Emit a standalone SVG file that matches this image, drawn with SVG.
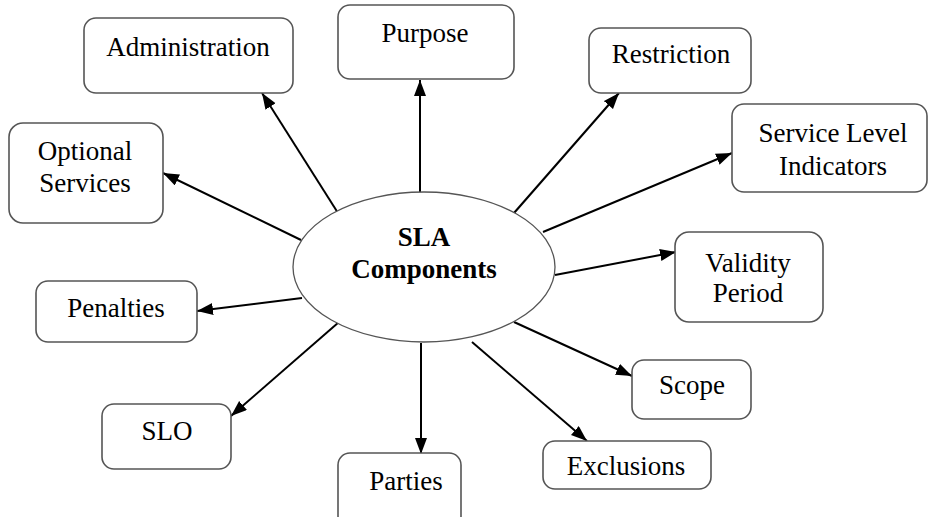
<svg xmlns="http://www.w3.org/2000/svg" width="928" height="517" viewBox="0 0 928 517">
<defs>
<marker id="ah" markerUnits="userSpaceOnUse" markerWidth="17" markerHeight="13" refX="16" refY="6" orient="auto">
<path d="M0,0 L16,6 L0,12 z" fill="#000"/>
</marker>
<style>
.box{fill:#fff;stroke:#555;stroke-width:1.6}
.t{font-family:"Liberation Serif","Times New Roman",serif;font-size:27px;fill:#000;text-anchor:middle}
.b{font-weight:bold}
.c{stroke:#000;stroke-width:2;fill:none;marker-end:url(#ah)}
</style>
</defs>
<rect width="928" height="517" fill="#fff"/>
<g id="connectors">
<line class="c" x1="338" y1="213" x2="262" y2="93"/>
<line class="c" x1="420" y1="192" x2="420" y2="80"/>
<line class="c" x1="301" y1="240" x2="163" y2="173"/>
<line class="c" x1="514" y1="213" x2="619" y2="93"/>
<line class="c" x1="543" y1="232" x2="732" y2="153"/>
<line class="c" x1="555" y1="275" x2="676" y2="252"/>
<line class="c" x1="302" y1="298" x2="197" y2="311"/>
<line class="c" x1="339" y1="322" x2="231" y2="416"/>
<line class="c" x1="421" y1="343" x2="421" y2="454"/>
<line class="c" x1="514" y1="322" x2="632" y2="376"/>
<line class="c" x1="472" y1="342" x2="587" y2="441"/>
</g>
<g id="center">
<ellipse cx="424" cy="267" rx="131" ry="75" fill="#fff" stroke="#555" stroke-width="1.3"/>
<text class="t b" x="424" y="246">SLA</text>
<text class="t b" x="424" y="278">Components</text>
</g>
<g id="administration">
<rect class="box" x="84" y="18" width="209" height="75" rx="12"/>
<text class="t" x="188" y="56">Administration</text>
</g>
<g id="purpose">
<rect class="box" x="338" y="5" width="176" height="74" rx="12"/>
<text class="t" x="425" y="42">Purpose</text>
</g>
<g id="restriction">
<rect class="box" x="589" y="28" width="162" height="65" rx="12"/>
<text class="t" x="671" y="63">Restriction</text>
</g>
<g id="sli">
<rect class="box" x="732" y="104" width="195" height="88" rx="12"/>
<text class="t" x="833" y="142">Service Level</text>
<text class="t" x="833" y="175">Indicators</text>
</g>
<g id="optional-services">
<rect class="box" x="9" y="123" width="154" height="100" rx="14"/>
<text class="t" x="85" y="160">Optional</text>
<text class="t" x="85" y="192">Services</text>
</g>
<g id="validity-period">
<rect class="box" x="675" y="232" width="148" height="90" rx="14"/>
<text class="t" x="748" y="272">Validity</text>
<text class="t" x="748" y="302">Period</text>
</g>
<g id="penalties">
<rect class="box" x="36" y="281" width="161" height="61" rx="12"/>
<text class="t" x="116" y="317">Penalties</text>
</g>
<g id="slo">
<rect class="box" x="102" y="404" width="129" height="65" rx="12"/>
<text class="t" x="167" y="440">SLO</text>
</g>
<g id="parties">
<rect class="box" x="338" y="453" width="123" height="75" rx="12"/>
<text class="t" x="406" y="490">Parties</text>
</g>
<g id="scope">
<rect class="box" x="632" y="360" width="119" height="59" rx="12"/>
<text class="t" x="692" y="394">Scope</text>
</g>
<g id="exclusions">
<rect class="box" x="543" y="441" width="168" height="48" rx="12"/>
<text class="t" x="626" y="475">Exclusions</text>
</g>
</svg>
